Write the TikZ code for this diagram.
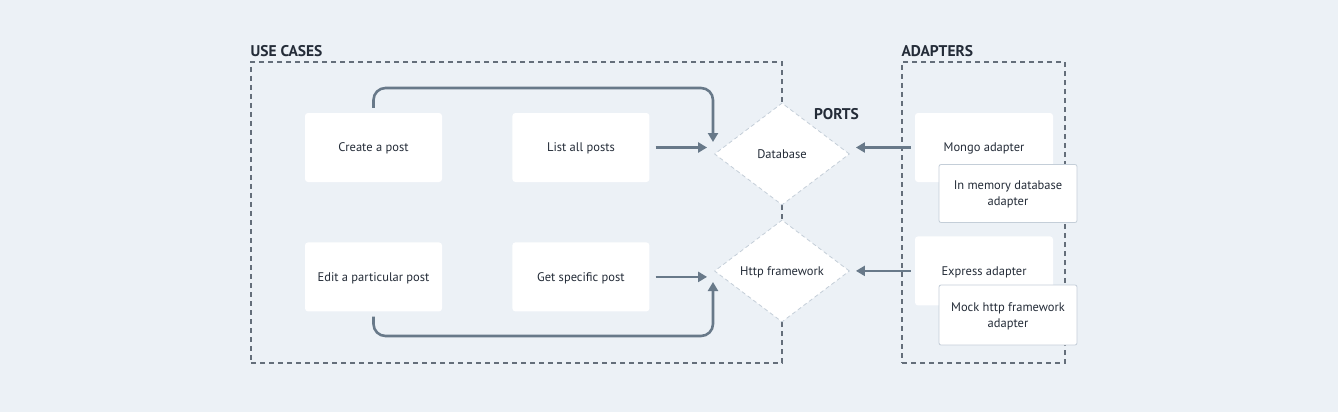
\documentclass[tikz,border=0pt]{standalone}
\usepackage{fontspec}
\setmainfont{PT Sans}
\usepackage{tikz}
\usetikzlibrary{positioning}
\usetikzlibrary{arrows.meta}
\usetikzlibrary{shapes.geometric}
\definecolor{bgcolor}{RGB}{236,241,246}
\definecolor{inkcolor}{RGB}{36,44,56}
\definecolor{arrowcolor}{RGB}{104,121,137}
\definecolor{framecolor}{RGB}{100,110,122}
\definecolor{portcolor}{RGB}{196,206,216}

\begin{document}
\begin{tikzpicture}[
    x=1pt, y=-1pt,
    font=\fontsize{12.5}{16}\selectfont,
    node distance=60pt and 70pt,
    usecase/.style={rectangle, fill=white, rounded corners=3pt, minimum width=137pt, minimum height=69pt, align=center, text=inkcolor, text depth=0pt},
    adapter/.style={usecase, minimum width=138pt},
    altadapter/.style={adapter, draw=portcolor, line width=0.8pt, rounded corners=2pt},
    port/.style={diamond, draw=portcolor, dash pattern=on 4pt off 3pt, fill=white, minimum width=135pt, minimum height=102pt, inner sep=0pt, text=inkcolor, text depth=0pt, line width=0.8pt},
    group/.style={rectangle, draw=framecolor, dash pattern=on 5pt off 4pt, line width=1.2pt, inner sep=0pt},
    title/.style={font=\fontsize{15.5}{18}\selectfont\bfseries, text=inkcolor, anchor=base west, inner sep=0pt},
    arrow/.style={-{Triangle[length=9pt,width=10pt]}, line width=2.6pt, draw=arrowcolor}
]

% Background
\fill[bgcolor] (0,0) rectangle (1338,412);
\useasboundingbox (0,0) rectangle (1338,412);

% Groups
\node[group, minimum width=531pt, minimum height=301pt] (usecases) at (516.5,212.5) {};
\node[group, minimum width=163pt, minimum height=301pt] (adapters) at (983.5,212.5) {};
\node[title] (ucTitle) at ([yshift=5pt]usecases.north west) {USE CASES};
\node[title] (adTitle) at ([yshift=5pt]adapters.north west) {ADAPTERS};
\node[title] (portsTitle) at (814,119) {PORTS};

% Use cases
\node[usecase] (create) at (373.5,147.5) {Create a post};
\node[usecase, right=of create] (list) {List all posts};
\node[usecase, below=of create] (edit) {Edit a particular post};
\node[usecase, right=of edit] (get) {Get specific post};

% Ports
\node[port] (db) at (782,154) {Database};
\node[port] (http) at (782,271) {Http framework};

% Adapters
\node[adapter] (mongo) at (984,147.5) {Mongo adapter};
\node[adapter, below=54pt of mongo] (express) {Express adapter};
\node[altadapter, minimum height=58pt] (inmemory) at (1008,193.5) {In memory database\\adapter};
\node[altadapter, minimum height=60pt] (mock) at (1008,315) {Mock http framework\\adapter};

% Arrows
\coordinate (dbturn) at (713,88);
\coordinate (dbin) at (713,142);
\coordinate (httpturn) at (713,336);
\coordinate (httpin) at (713,282);
\draw[arrow, rounded corners=12pt, shorten <=5pt] (create.north) |- (dbturn) -- (dbin);
\draw[arrow, rounded corners=12pt, shorten <=5pt] (edit.south) |- (httpturn) -- (httpin);
\draw[arrow, shorten <=6pt, shorten >=7pt] (list.east) -- (list.east -| db.west);
\draw[arrow, shorten <=6pt, shorten >=7pt] (get.east) -- (get.east -| http.west);
\draw[arrow, shorten <=4pt, shorten >=6pt] (mongo.west) -- (mongo.west -| db.east);
\draw[arrow, shorten <=4pt, shorten >=6pt] (express.west) -- (express.west -| http.east);

\end{tikzpicture}
\end{document}
